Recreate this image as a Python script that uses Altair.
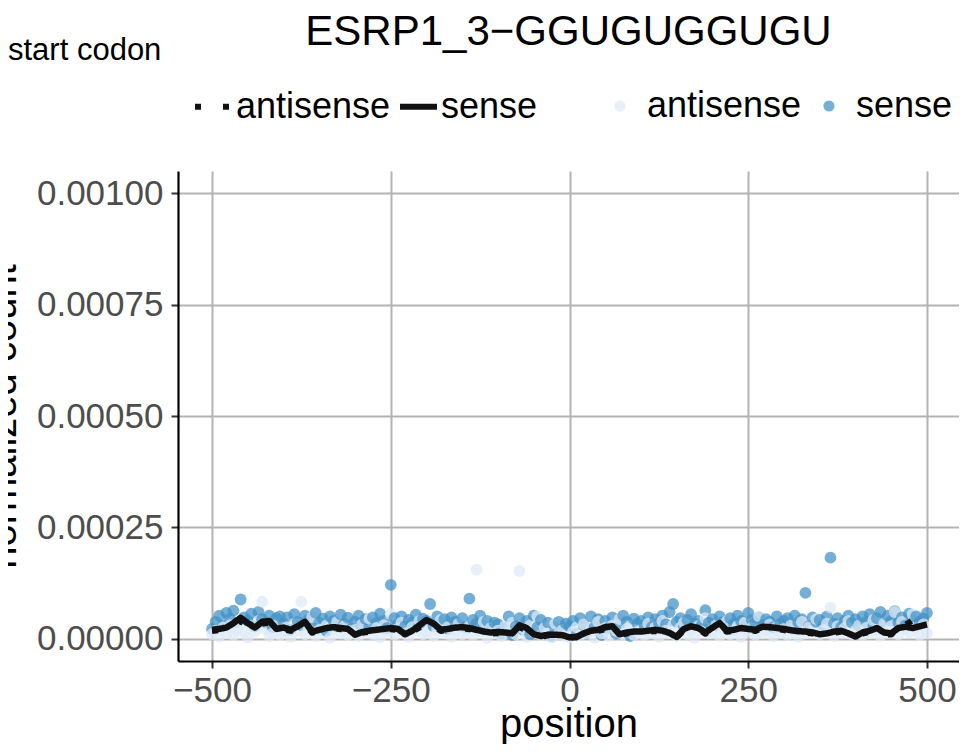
import altair as alt
import pandas as pd

TITLE = "ESRP1_3−GGUGUGGUGU"
CORNER_LABEL = "start codon"
STRANDS = ["antisense", "sense"]
POINT_COLORS = ["#deebf7", "#4292c6"]
LINE_DASHES = [[6, 22], [1, 0]]
X_TICKS = [-500, -250, 0, 250, 500]
Y_TICKS = [0.0, 0.00025, 0.0005, 0.00075, 0.001]

point_positions = list(range(-500, 501, 5))
line_positions = list(range(-500, 501, 10))

# normalized counts, in units of 1e-6
sense_points = [
    22, 38, 52, 30, 58, 45, 63, 36, 88, 48, 40, 56, 28, 60, 44, 35, 52, 26, 46, 50,
    34, 48, 20, 55, 38, 30, 52, 42, 25, 58, 36, 45, 18, 50, 40, 28, 54, 33, 47, 22,
    38, 52, 30, 44, 26, 48, 35, 56, 40, 24, 121, 46, 32, 50, 28, 42, 36, 54, 30, 45,
    40, 78, 28, 50, 35, 44, 22, 48, 38, 30, 46, 26, 90, 42, 34, 52, 28, 40, 20, 36,
    32, 12, 25, 50, 8, 28, 46, 20, 40, 10, 52, 26, 42, 18, 36, 6, 24, 38, 22, 34,
    28, 40, 10, 46, 30, 14, 50, 26, 44, 8, 40, 24, 48, 12, 28, 52, 38, 6, 45, 34,
    40, 30, 48, 26, 44, 36, 52, 32, 60, 78, 38, 46, 28, 42, 55, 34, 40, 30, 64, 36,
    44, 30, 50, 38, 26, 46, 34, 52, 40, 28, 58, 42, 36, 48, 30, 44, 38, 26, 50, 34,
    40, 46, 30, 52, 36, 44, 103, 28, 48, 38, 42, 30, 50, 182, 34, 46, 26, 40, 52, 36,
    44, 30, 50, 38, 55, 28, 46, 60, 34, 52, 40, 62, 36, 48, 30, 56, 42, 50, 38, 45, 58,
]
antisense_points = [
    10, 18, 5, 25, 12, 30, 8, 20, 35, 14, 2, 28, 16, 40, 83, 22, 6, 12, 30, 8,
    15, 26, 4, 33, 18, 83, 10, 24, 48, 6, 20, 14, 30, 2, 22, 38, 12, 28, 8, 18,
    20, 6, 32, 14, 45, 10, 24, 3, 30, 16, 55, 8, 22, 36, 12, 4, 26, 18, 40, 10,
    14, 30, 6, 22, 42, 12, 26, 4, 18, 34, 10, 20, 28, 8, 155, 16, 38, 2, 24, 12,
    18, 6, 28, 14, 36, 10, 152, 22, 4, 30, 16, 50, 8, 24, 12, 2, 34, 10, 20, 6,
    4, 16, 26, 8, 32, 14, 20, 2, 38, 12, 24, 6, 30, 18, 44, 10, 22, 28, 8, 16,
    20, 8, 34, 14, 26, 4, 40, 18, 12, 30, 6, 24, 36, 10, 20, 2, 28, 16, 46, 12,
    14, 30, 6, 22, 40, 10, 18, 28, 4, 36, 16, 24, 8, 50, 12, 20, 32, 6, 26, 14,
    22, 8, 30, 16, 4, 38, 12, 26, 18, 44, 10, 20, 34, 70, 6, 28, 14, 24, 40, 10,
    18, 30, 8, 24, 12, 42, 20, 6, 34, 16, 28, 60, 10, 38, 22, 14, 55, 26, 8, 32, 12,
]
sense_line = [
    20, 22, 25, 35, 47, 35, 25, 38, 40, 22,
    25, 20, 28, 38, 16, 20, 24, 26, 24, 22,
    9, 15, 18, 20, 22, 24, 22, 10, 18, 30,
    42, 34, 20, 22, 25, 26, 24, 20, 16, 14,
    15, 14, 12, 30, 24, 10, 6, 9, 9, 8,
    3, 4, 12, 18, 20, 26, 28, 10, 14, 16,
    16, 18, 20, 18, 13, 4, 22, 28, 24, 14,
    25, 35, 18, 20, 24, 22, 20, 27, 26, 24,
    22, 19, 17, 16, 14, 10, 12, 16, 18, 12,
    5, 14, 18, 24, 14, 12, 24, 27, 24, 28, 32,
]
antisense_line = [
    18, 20, 22, 30, 40, 30, 22, 34, 36, 20,
    22, 18, 24, 34, 14, 18, 22, 24, 22, 20,
    8, 14, 16, 18, 20, 22, 20, 9, 16, 26,
    38, 30, 18, 20, 22, 24, 22, 18, 14, 12,
    13, 12, 10, 26, 20, 8, 5, 8, 8, 7,
    3, 4, 10, 16, 18, 22, 24, 9, 12, 14,
    14, 16, 18, 16, 11, 4, 20, 24, 22, 12,
    22, 30, 16, 18, 20, 20, 18, 24, 22, 22,
    20, 17, 15, 14, 12, 9, 10, 14, 16, 10,
    4, 12, 16, 20, 10, 10, 28, 47, 22, 18, 5,
]

SCALE = 1e-6
pt_rows = []
for i, p in enumerate(point_positions):
    pt_rows.append({"position": p, "count": sense_points[i] * SCALE, "point_strand": STRANDS[1]})
    pt_rows.append({"position": p, "count": antisense_points[i] * SCALE, "point_strand": STRANDS[0]})
points_df = pd.DataFrame(pt_rows)

ln_rows = []
for strand, vals in ((STRANDS[0], antisense_line), (STRANDS[1], sense_line)):
    for p, v in zip(line_positions, vals):
        ln_rows.append({"position": p, "count": v * SCALE, "line_strand": strand})
lines_df = pd.DataFrame(ln_rows)

FONT = "Liberation Sans"
PLOT_W = 781
PLOT_H = 490

x_enc = alt.X(
    "position:Q",
    scale=alt.Scale(domain=[-547.6, 544.8], nice=False, zero=False),
    axis=alt.Axis(values=X_TICKS, title="position", titleY=75,
                  titleBaseline="alphabetic", labelPadding=5),
)
y_enc = alt.Y(
    "count:Q",
    scale=alt.Scale(domain=[-0.00005, 0.00105], nice=False, zero=False),
    axis=alt.Axis(values=Y_TICKS, format=".5f", title="normalized count",
                  titleAngle=270, titleX=-163, titleY=PLOT_H / 2, titleAlign="center",
                  titleBaseline="alphabetic", labelPadding=8),
)

points = alt.Chart(points_df).mark_circle(size=140, opacity=0.73).encode(
    x=x_enc,
    y=y_enc,
    color=alt.Color(
        "point_strand:N",
        scale=alt.Scale(range=POINT_COLORS),
        sort="ascending",
        title=None,
        legend=alt.Legend(orient="none", legendX=424, legendY=-83, direction="horizontal",
                          symbolType="circle", symbolSize=125, labelOffset=9,
                          columnPadding=9, labelFontSize=36, labelFont=FONT,
                          labelColor="black", padding=0, symbolOpacity=0.73),
    ),
)

lines = alt.Chart(lines_df).mark_line(
    color="#111111", strokeWidth=6.5, strokeCap="butt", strokeJoin="round"
).encode(
    x="position:Q",
    y="count:Q",
    strokeDash=alt.StrokeDash(
        "line_strand:N",
        scale=alt.Scale(range=LINE_DASHES),
        sort="ascending",
        title=None,
        legend=alt.Legend(orient="none", legendX=14, legendY=-86, direction="horizontal",
                          symbolType="stroke", symbolSize=1369, symbolStrokeWidth=6,
                          symbolStrokeColor="#111111", labelOffset=1, columnPadding=-3,
                          labelFontSize=36, labelFont=FONT, labelColor="black", padding=0),
    ),
)

title_text = alt.Chart(pd.DataFrame({"label": [TITLE]})).mark_text(
    font=FONT, fontSize=42, align="center", baseline="alphabetic", color="black"
).encode(x=alt.value(PLOT_W / 2), y=alt.value(-126), text="label:N")

corner_text = alt.Chart(pd.DataFrame({"label": [CORNER_LABEL]})).mark_text(
    font=FONT, fontSize=31, align="left", baseline="alphabetic", color="black"
).encode(x=alt.value(-170), y=alt.value(-111), text="label:N")

chart = alt.layer(points, lines, title_text, corner_text).properties(
    width=PLOT_W,
    height=PLOT_H,
    autosize=alt.AutoSizeParams(type="none"),
    padding={"left": 170, "top": 163, "right": 0, "bottom": 83},
).configure_view(stroke=None).configure_axis(
    domainColor="black", domainWidth=2.2,
    tickColor="#333333", tickWidth=2, tickSize=7,
    gridColor="#b3b3b3", gridWidth=2,
    labelFont=FONT, labelFontSize=35, labelColor="#4d4d4d",
    titleFont=FONT, titleFontSize=40, titleColor="black", titleFontWeight="normal",
)

chart.save("out.html", embed_options={"renderer": "svg", "actions": False})
